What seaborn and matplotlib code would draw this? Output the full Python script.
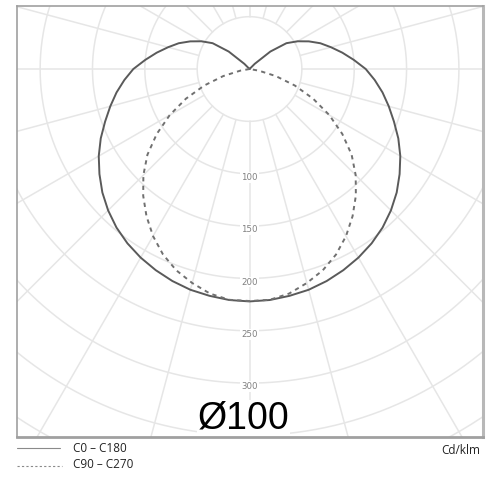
import numpy as np
import pandas as pd
import matplotlib
matplotlib.use("Agg")
import matplotlib.pyplot as plt
import seaborn as sns

# ---- data (cd/klm vs. gamma angle from nadir, degrees) ----
gamma_c0 = [0, 5, 10, 15, 20, 25, 30, 35, 40, 45, 50, 55, 60, 65, 70, 75, 80, 85, 90,
            95, 100, 105, 110, 115, 120, 125, 130, 135, 137, 180]
I_c0 = [222, 221.5, 220, 218.3, 215.5, 212, 208, 203.3, 197.7, 191, 183.5, 175, 166.3, 156.8,
        146.8, 137.7, 129, 120, 111, 100, 90, 80.5, 72, 62.5, 53, 43, 26, 7, 0, 0]

gamma_c90 = [0, 5, 10, 15, 20, 25, 30, 35, 40, 45, 50, 55, 60, 65, 70, 75, 80, 83, 90, 180]
I_c90 = [221.6, 221.3, 217.8, 211.6, 204.6, 195.5, 184.3, 171.6, 158, 143.4, 127.3, 108.2, 88,
         67, 46, 26, 9, 0, 0, 0]

ring_values = [50, 100, 150, 200, 250, 300, 350, 400, 450]
ring_labels = [100, 150, 200, 250, 300]
legend_labels = ["C0 \u2013 C180", "C90 \u2013 C270"]
unit_label = "Cd/klm"
title_label = "\u00d8100"

sns.set_theme(style="white")


def to_xy(gam, inten):
    g = np.deg2rad(np.asarray(gam, float))
    r = np.asarray(inten, float)
    # full curve: mirrored left (C180 / C270) and right (C0 / C90) halves
    g_full = np.concatenate([-g[::-1], g[1:]])
    r_full = np.concatenate([r[::-1], r[1:]])
    return r_full * np.sin(g_full), -r_full * np.cos(g_full)


fig = plt.figure(figsize=(5, 5), dpi=100)
ax = fig.add_axes([17 / 500, 63 / 500, 466 / 500, 431 / 500])
ax.set_xlim(-222.1, 223.0)
ax.set_ylim(-351.5, 60.2)

grid_col = "#e6e6e6"
# rings
t = np.linspace(0, 2 * np.pi, 721)
for rv in ring_values:
    ax.plot(rv * np.cos(t), rv * np.sin(t), color=grid_col, lw=1.1, zorder=1)
# spokes every 15 degrees, from the 50 ring outward
for a in range(0, 360, 15):
    ar = np.deg2rad(a)
    ax.plot([50 * np.cos(ar), 600 * np.cos(ar)], [50 * np.sin(ar), 600 * np.sin(ar)],
            color=grid_col, lw=1.1, zorder=1)

# ring labels (sit just below their ring)
for rv in ring_labels:
    ax.text(0, -rv - 3.5, str(rv), ha="center", va="center", fontsize=6.2, color="#808080",
            bbox=dict(facecolor="white", edgecolor="none", pad=0.6), zorder=2)

# curves
x0, y0 = to_xy(gamma_c0, I_c0)
x9, y9 = to_xy(gamma_c90, I_c90)
df0 = pd.DataFrame({"x": x0, "y": y0})
df9 = pd.DataFrame({"x": x9, "y": y9})
sns.lineplot(data=df0, x="x", y="y", sort=False, estimator=None, ax=ax,
             color="#5a5a5a", lw=1.4, zorder=4)
sns.lineplot(data=df9, x="x", y="y", sort=False, estimator=None, ax=ax,
             color="#707070", lw=1.4, linestyle=(0, (2.2, 2.2)), zorder=4)

ax.set_xlabel("")
ax.set_ylabel("")
ax.set_xticks([])
ax.set_yticks([])

for side, sp in ax.spines.items():
    sp.set_visible(True)
    sp.set_color("#a0a0a0")
    sp.set_linewidth(1.2)
    sp.set_zorder(6)
ax.spines["right"].set_linewidth(2.2)
ax.spines["right"].set_color("#b8b8b8")
ax.spines["bottom"].set_linewidth(2.0)

# big label
ax.text(-6, -334, title_label, ha="center", va="center", fontsize=27,
        family="Liberation Sans", color="black",
        bbox=dict(facecolor="white", edgecolor="none", pad=0.5), zorder=3)

# legend below
fig.lines.append(plt.Line2D([17 / 500, 60 / 500], [1 - 448 / 500, 1 - 448 / 500],
                            color="#8a8a8a", lw=0.8, transform=fig.transFigure))
fig.lines.append(plt.Line2D([17 / 500, 62 / 500], [1 - 466 / 500, 1 - 466 / 500],
                            color="#8a8a8a", lw=0.8, linestyle=(0, (2, 2)),
                            transform=fig.transFigure))
fig.text(73 / 500, 1 - 448 / 500, legend_labels[0], ha="left", va="center",
         fontsize=8.5, family="Open Sans", color="#222222")
fig.text(73 / 500, 1 - 465 / 500, legend_labels[1], ha="left", va="center",
         fontsize=8.5, family="Open Sans", color="#222222")
fig.text(480 / 500, 1 - 451 / 500, unit_label, ha="right", va="center",
         fontsize=8.5, family="Open Sans", color="#222222")

fig.savefig("out.png", dpi=100, facecolor="white")
